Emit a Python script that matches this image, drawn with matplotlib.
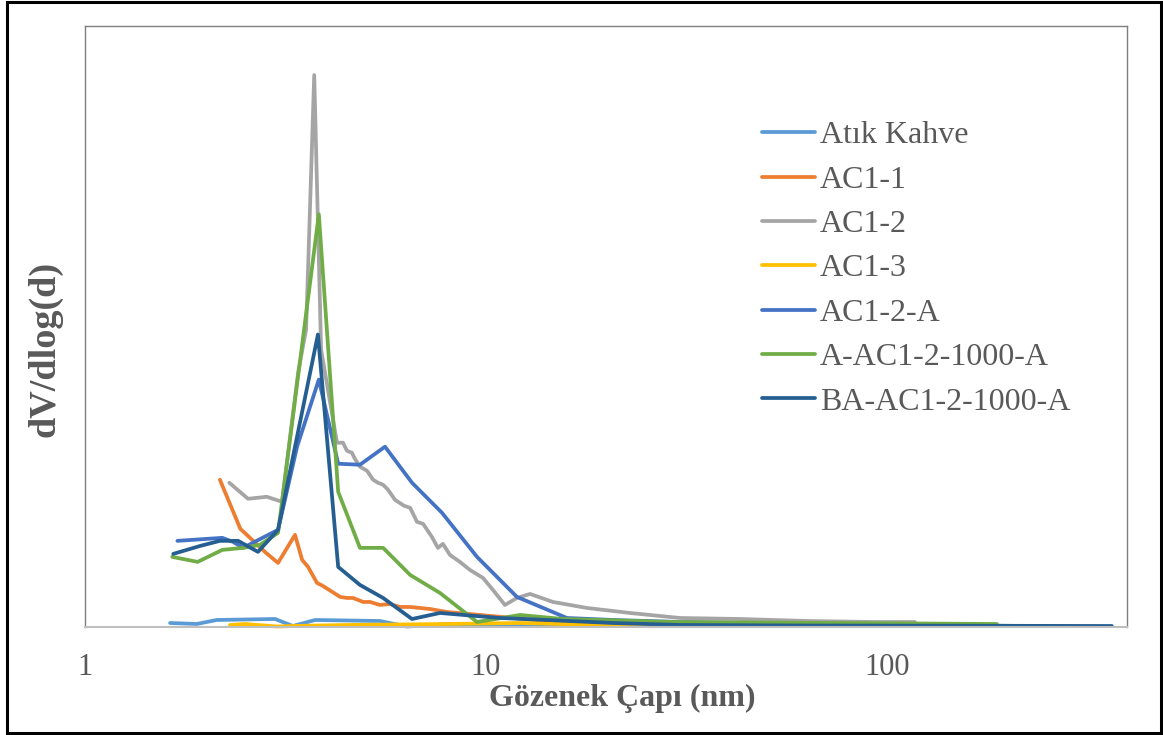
import matplotlib
matplotlib.use("Agg")
import matplotlib.pyplot as plt
from matplotlib.patches import Rectangle

# Pore size distribution data (pore diameter in nm, dV/dlog(d))
atik_x = [1.63, 1.90, 2.13, 2.98, 3.30, 3.75, 5.44, 6.35, 7.99, 14.4, 34.2]
atik_y = [0.004, 0.003, 0.007, 0.008, 0.001, 0.007, 0.006, 0.0005, 0.003, 0.002, 0.001]

ac11_x = [2.17, 2.44, 2.58, 2.81, 3.03, 3.34, 3.48, 3.60, 3.79, 3.92, 4.33, 4.50,
          4.66, 4.94, 5.14, 5.44, 5.76, 6.10, 6.47, 7.25, 7.99, 9.66, 11.68, 14.19,
          17.16, 25.6, 45.5]
ac11_y = [0.147, 0.098, 0.089, 0.075, 0.064, 0.092, 0.067, 0.060, 0.044, 0.041, 0.030,
          0.029, 0.029, 0.025, 0.025, 0.022, 0.023, 0.020, 0.020, 0.018, 0.015, 0.012,
          0.009, 0.006, 0.004, 0.002, 0.001]

ac12_x = [2.29, 2.55, 2.84, 3.10, 3.40, 3.56, 3.73, 3.88, 4.25, 4.40, 4.50, 4.63, 4.71,
          4.85, 5.05, 5.23, 5.38, 5.54, 5.70, 5.93, 6.25, 6.47, 6.73, 6.97, 7.33, 7.59,
          7.81, 8.13, 8.61, 9.12, 9.83, 10.41, 11.15, 11.95, 12.88, 14.69, 17.86, 22.86,
          30.47, 43.0, 63.2, 92.3, 117.4]
ac12_y = [0.144, 0.128, 0.130, 0.125, 0.254, 0.297, 0.551, 0.277, 0.184, 0.184, 0.176,
          0.174, 0.168, 0.160, 0.156, 0.147, 0.144, 0.142, 0.137, 0.127, 0.121, 0.119,
          0.105, 0.103, 0.090, 0.079, 0.083, 0.072, 0.065, 0.057, 0.049, 0.037, 0.022,
          0.029, 0.033, 0.025, 0.019, 0.014, 0.009, 0.008, 0.006, 0.005, 0.005]

ac13_x = [2.30, 2.51, 3.01, 3.30, 4.5, 8.0, 12.16, 19.2, 34.2]
ac13_y = [0.002, 0.003, 0.0005, 0.001, 0.002, 0.003, 0.004, 0.002, 0.001]

ac12a_x = [1.70, 2.20, 2.34, 2.48, 2.62, 3.03, 3.38, 3.83, 4.28, 4.85, 5.60, 6.54, 7.77,
           9.50, 11.95, 15.92, 20.74, 30.47, 60.7, 227.0]
ac12a_y = [0.086, 0.089, 0.085, 0.079, 0.084, 0.097, 0.180, 0.247, 0.163, 0.162, 0.180,
           0.144, 0.114, 0.070, 0.030, 0.009, 0.007, 0.005, 0.003, 0.001]

a_ac12_x = [1.65, 1.91, 2.20, 2.48, 2.73, 3.03, 3.83, 4.28, 4.85, 5.54, 6.47, 7.68, 9.50,
            12.16, 15.56, 29.3, 188.0]
a_ac12_y = [0.070, 0.065, 0.077, 0.079, 0.082, 0.094, 0.412, 0.135, 0.079, 0.079, 0.052,
            0.034, 0.005, 0.012, 0.008, 0.005, 0.003]

ba_ac12_x = [1.66, 1.94, 2.17, 2.41, 2.70, 3.03, 3.81, 4.28, 4.85, 5.54, 6.54, 7.68, 10.84,
             14.19, 20.74, 30.47, 60.7, 364.0]
ba_ac12_y = [0.073, 0.081, 0.086, 0.086, 0.075, 0.097, 0.292, 0.060, 0.042, 0.029, 0.008,
             0.014, 0.009, 0.007, 0.004, 0.002, 0.0015, 0.001]

series = [
    ("Atık Kahve", atik_x, atik_y, "#5B9BD5"),
    ("AC1-1", ac11_x, ac11_y, "#ED7D31"),
    ("AC1-2", ac12_x, ac12_y, "#A5A5A5"),
    ("AC1-3", ac13_x, ac13_y, "#FFC000"),
    ("AC1-2-A", ac12a_x, ac12a_y, "#4472C4"),
    ("A-AC1-2-1000-A", a_ac12_x, a_ac12_y, "#70AD47"),
    ("BA-AC1-2-1000-A", ba_ac12_x, ba_ac12_y, "#255E91"),
]

x_ticks = [1, 10, 100]
x_tick_labels = ["1", "10", "100"]

plt.rcParams["font.family"] = ["Liberation Serif", "DejaVu Serif"]
text_color = "#595959"

W, H = 1163, 735
fig = plt.figure(figsize=(W / 100, H / 100), dpi=100)
ax = fig.add_axes([85 / W, 1 - 627 / H, 1042 / W, 601 / H])

for name, xs, ys, col in series:
    ax.plot(xs, ys, color=col, lw=2.7, label=name, clip_on=False,
            solid_joinstyle="round", solid_capstyle="round")

ax.set_xscale("log")
ax.set_xlim(1, 397)
ax.set_ylim(0, 0.6)
ax.set_xticks(x_ticks)
ax.set_xticklabels(x_tick_labels)
ax.xaxis.set_minor_locator(matplotlib.ticker.NullLocator())
ax.set_yticks([])
ax.tick_params(axis="x", length=0, pad=19, labelsize=22, labelcolor=text_color)

for side in ("left", "top", "right"):
    ax.spines[side].set_color("#7F7F7F")
    ax.spines[side].set_linewidth(1.0)
ax.spines["bottom"].set_color("#BFBFBF")
ax.spines["bottom"].set_linewidth(1.5)

fig.text(622 / W, 1 - 698 / H, "Gözenek Çapı (nm)", ha="center", va="center",
         fontsize=23, fontweight="bold", color=text_color)
fig.text(45 / W, 1 - 349 / H, "dV/dlog(d)", ha="center", va="center", rotation=90,
         fontsize=27.5, fontweight="bold", color=text_color)

leg = ax.legend(loc="upper left", bbox_to_anchor=(762 / W, 1 - 121 / H),
                bbox_transform=fig.transFigure, frameon=False, fontsize=23,
                handlelength=1.66, handletextpad=0.16, labelspacing=0.47,
                borderpad=0, borderaxespad=0)
for t in leg.get_texts():
    t.set_color(text_color)

fig.add_artist(Rectangle((7 / W, 2 / H), 1154 / W, 731 / H, transform=fig.transFigure,
                         fill=False, edgecolor="black", lw=2.2))

fig.savefig("out.png", dpi=100)
